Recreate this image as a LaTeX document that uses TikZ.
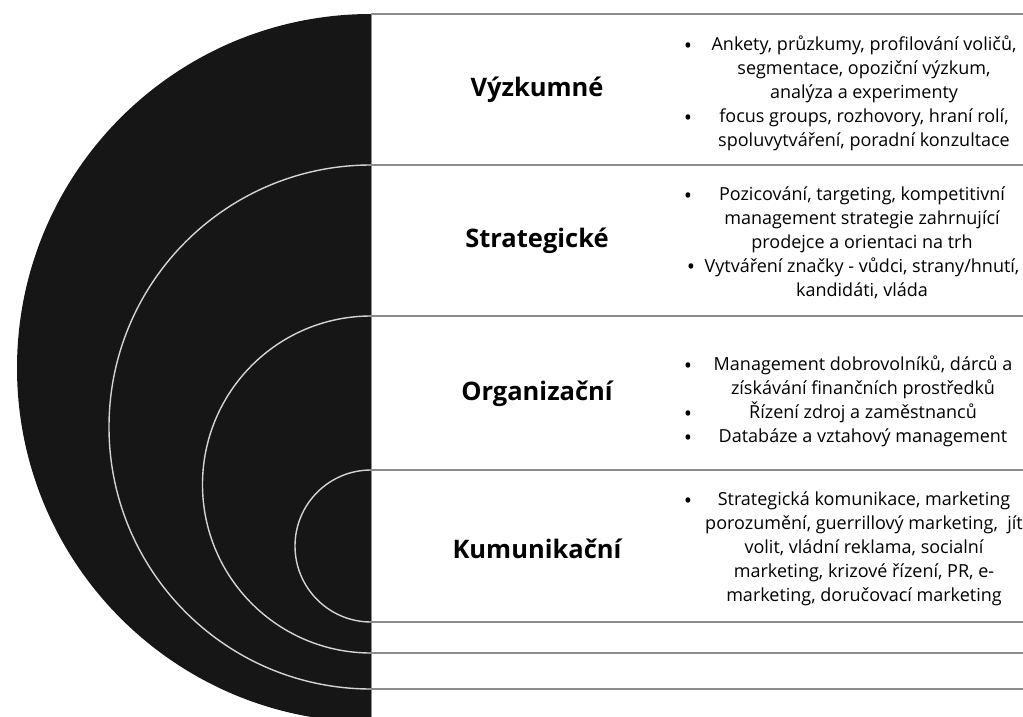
\documentclass[tikz,border=0pt]{standalone}
\usepackage{fontspec}
\setmainfont{Open Sans}
\usetikzlibrary{positioning}

\definecolor{disc}{HTML}{161616}
\definecolor{rulegray}{HTML}{8C8C8C}
\definecolor{ringgray}{HTML}{D4D4D4}

\tikzset{
  layer/.style={font=\fontsize{25.5}{30}\selectfont\bfseries},
  items/.style={align=center, font=\fontsize{18}{24}\selectfont},
  dot/.style={font=\fontsize{22}{24}\selectfont},
  rulestyle/.style={rulegray, line width=1.8pt},
  ringstyle/.style={ringgray, line width=1.4pt}
}

\begin{document}
\begin{tikzpicture}[x=1pt,y=-1pt]
\useasboundingbox (0,0) rectangle (1023,717);

% half disc and rings
\fill[disc] (371,14) arc[start angle=90,end angle=270,radius=354pt] -- cycle;
\draw[ringstyle] (371,165) arc[start angle=90,end angle=270,radius=262pt];
\draw[ringstyle] (371,316) arc[start angle=90,end angle=270,radius=168.5pt];
\draw[ringstyle] (371,470) arc[start angle=90,end angle=270,radius=76pt];

% table rules
\foreach \y in {14,165,316,470,622,653,689}
  \draw[rulestyle] (371,\y) -- (1023,\y);
\draw[rulegray, line width=1pt] (371.5,14) -- (371.5,717);

% layers
\node[layer] (vyzkum) at (537,90) {Výzkumné};
\node[layer] (strateg) at (537,241) {Strategické};
\node[layer] (organ) at (537,394) {Organizační};
\node[layer] (komun) at (537,549) {Kumunikační};

% activities
\node[items] (vyzkum-list) at (864,93) {Ankety, průzkumy, profilování voličů,\\
  segmentace, opoziční výzkum,\\ analýza a experimenty\\
  focus groups, rozhovory, hraní rolí,\\ spoluvytváření, poradní konzultace};
\node[items] (strateg-list) at (862,242.5) {Pozicování, targeting, kompetitivní\\
  management strategie zahrnující\\ prodejce a orientaci na trh\\
  Vytváření značky - vůdci, strany/hnutí,\\ kandidáti, vláda};
\node[items] (organ-list) at (863,401) {Management dobrovolníků, dárců a\\
  získávání finančních prostředků\\ Řízení zdroj a zaměstnanců\\
  Databáze a vztahový management};
\node[items] (komun-list) at (864,548.5) {Strategická komunikace, marketing\\
  porozumění, guerrillový marketing,~~jít\\ volit, vládní reklama, socialní\\
  marketing, krizové řízení, PR, e-\\ marketing, doručovací marketing};

% bullets
\foreach \x/\y [count=\i] in {688/48,688/120,688/198,691/269,688/368,688/416,688/440,688/503}
  \node[dot] (dot\i) at (\x,\y) {•};

\end{tikzpicture}
\end{document}
